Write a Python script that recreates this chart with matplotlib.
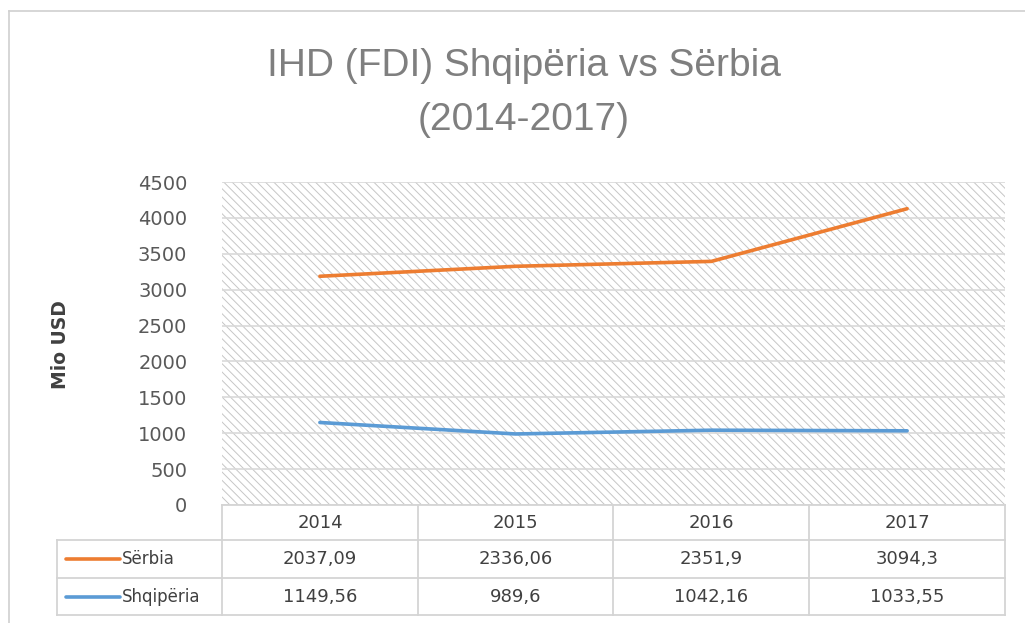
import matplotlib
matplotlib.use("Agg")
import matplotlib.pyplot as plt
from matplotlib.lines import Line2D
from matplotlib.patches import Rectangle
import numpy as np

years = ["2014", "2015", "2016", "2017"]
serbia = [2037.09, 2336.06, 2351.9, 3094.3]
shqiperia = [1149.56, 989.6, 1042.16, 1033.55]
serbia_labels = ["2037,09", "2336,06", "2351,9", "3094,3"]
shqiperia_labels = ["1149,56", "989,6", "1042,16", "1033,55"]
yticks = list(range(0, 4501, 500))

title_1 = "IHD (FDI) Shqipëria vs Sërbia"
title_2 = "(2014-2017)"
ylabel = "Mio USD"

ORANGE = "#ED7D31"
BLUE = "#5B9BD5"
TXT = "#595959"
GRID = "#D9D9D9"
FONT = ["DejaVu Sans"]

plt.rcParams["hatch.linewidth"] = 0.7
plt.rcParams["hatch.color"] = "#C6C6C6"

W, H = 1025, 623
fig = plt.figure(figsize=(W / 100, H / 100), dpi=100)
fig.patch.set_facecolor("white")

def fx(px):
    return px / W

def fy(py):
    return 1 - py / H

# chart border
fig.add_artist(Line2D([fx(9), fx(9)], [fy(11), fy(623)], color="#D0D0D0", lw=1.2))
fig.add_artist(Line2D([fx(9), fx(1025)], [fy(11), fy(11)], color="#D0D0D0", lw=1.2))

L, R, T, B = 222, 1005, 182, 505
ax = fig.add_axes([fx(L), fy(B), fx(R) - fx(L), fy(T) - fy(B)])
ax.set_facecolor("white")
ax.add_patch(Rectangle((0, 0), 1, 1, transform=ax.transAxes, facecolor="none",
                       edgecolor="#C6C6C6", hatch="\\" * 4, linewidth=0, zorder=0))

x = np.arange(len(years))
stack_serbia = np.array(shqiperia) + np.array(serbia)
ax.plot(x, shqiperia, color=BLUE, lw=2.6, solid_capstyle="round", zorder=3)
ax.plot(x, stack_serbia, color=ORANGE, lw=2.6, solid_capstyle="round", zorder=3)

ax.set_xlim(-0.5, len(years) - 0.5)
ax.set_ylim(0, 4500)
ax.set_yticks(yticks)
ax.set_yticklabels([str(v) for v in yticks], fontsize=14, color=TXT, family=FONT)
ax.set_xticks([])
ax.tick_params(axis="y", length=0, pad=25)
ax.grid(axis="y", color=GRID, lw=1.2, zorder=1)
for s in ax.spines.values():
    s.set_visible(False)

fig.text(fx(61), fy(345), ylabel, rotation=90, ha="center", va="center",
         fontsize=13.5, fontweight="bold", color="#404040", family=FONT)

fig.text(fx(524), fy(66), title_1, ha="center", va="center", fontsize=28,
         color="#7F7F7F", family=["Liberation Sans", "DejaVu Sans"])
fig.text(fx(524), fy(120), title_2, ha="center", va="center", fontsize=28,
         color="#7F7F7F", family=["Liberation Sans", "DejaVu Sans"])

# data table
TL = 57
cols = [222, 418, 613, 809, 1005]
rows = [505, 540, 578, 615]
lc = "#D4D4D4"
def hline(y, x0, x1):
    fig.add_artist(Line2D([fx(x0), fx(x1)], [fy(y), fy(y)], color=lc, lw=1.3))
def vline(xp, y0, y1):
    fig.add_artist(Line2D([fx(xp), fx(xp)], [fy(y0), fy(y1)], color=lc, lw=1.3))

hline(rows[0], cols[0], cols[-1])
for r in rows[1:]:
    hline(r, TL, cols[-1])
vline(TL, rows[1], rows[-1])
for c in cols:
    vline(c, rows[0], rows[-1])

tcol = "#404040"
for i, yr in enumerate(years):
    cx = (cols[i] + cols[i + 1]) / 2
    fig.text(fx(cx), fy((rows[0] + rows[1]) / 2), yr, ha="center", va="center",
             fontsize=13, color=tcol, family=FONT)
    fig.text(fx(cx), fy((rows[1] + rows[2]) / 2), serbia_labels[i], ha="center",
             va="center", fontsize=13, color=tcol, family=FONT)
    fig.text(fx(cx), fy((rows[2] + rows[3]) / 2), shqiperia_labels[i], ha="center",
             va="center", fontsize=13, color=tcol, family=FONT)

for (name, col, r0, r1) in [("Sërbia", ORANGE, rows[1], rows[2]),
                            ("Shqipëria", BLUE, rows[2], rows[3])]:
    yc = fy((r0 + r1) / 2)
    fig.add_artist(Line2D([fx(66), fx(120)], [yc, yc], color=col, lw=2.6,
                          solid_capstyle="round"))
    fig.text(fx(122), yc, name, ha="left", va="center", fontsize=12,
             color=tcol, family=FONT)

fig.savefig("out.png", dpi=100)
